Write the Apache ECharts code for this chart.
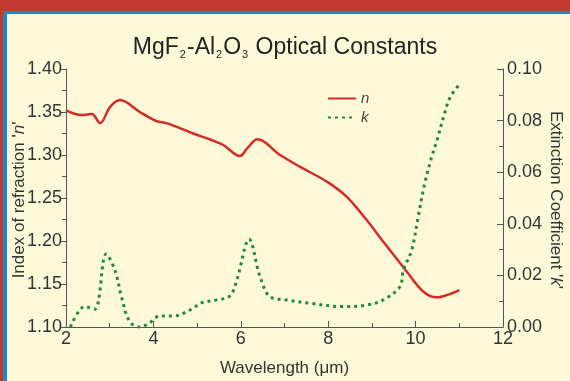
<!DOCTYPE html>
<html>
<head>
<meta charset="utf-8">
<script src="https://cdn.jsdelivr.net/npm/echarts@6/dist/echarts.min.js"></script>
<style>
  html, body { margin: 0; padding: 0; background: #fdf9d8; }
  #main { width: 570px; height: 381px; }
</style>
</head>
<body>
<div id="main"></div>
<script>
// 数据：波长与折射率 n
var wavelengthN = [2.0, 2.36, 2.59, 2.78, 3.01, 3.24, 3.69, 4.07, 4.3, 4.91, 5.3, 5.6, 5.98, 6.15, 6.38, 6.9, 7.35, 7.97, 8.42, 8.88, 9.26, 9.8, 10.18, 10.48, 10.71, 11.0];
var nValues = [1.352, 1.3465, 1.3477, 1.337, 1.356, 1.364, 1.350, 1.3395, 1.337, 1.325, 1.318, 1.3116, 1.2988, 1.308, 1.3182, 1.300, 1.2864, 1.269, 1.2515, 1.2244, 1.1992, 1.1643, 1.141, 1.1345, 1.137, 1.143];

// 数据：波长与消光系数 k
var wavelengthK = [2.1, 2.43, 2.66, 2.92, 3.12, 3.27, 3.46, 3.69, 3.88, 4.15, 4.46, 4.91, 5.07, 5.45, 5.75, 5.91, 6.19, 6.44, 6.67, 7.05, 7.58, 8.34, 8.88, 9.26, 9.64, 9.72, 9.91, 10.06, 10.21, 10.37, 10.5, 10.65, 10.79, 11.02];
var kValues = [0, 0.0079, 0.0069, 0.0283, 0.022, 0.0117, 0.002, 0, 0.0012, 0.0043, 0.0043, 0.0072, 0.0092, 0.0105, 0.012, 0.0182, 0.034, 0.0195, 0.0117, 0.0105, 0.0092, 0.0079, 0.0085, 0.0105, 0.0156, 0.022, 0.0298, 0.0428, 0.0557, 0.066, 0.073, 0.082, 0.089, 0.0944];

var nData = wavelengthN.map(function (x, i) { return [x, nValues[i]]; });
var kData = wavelengthK.map(function (x, i) { return [x, kValues[i]]; });

var myChart = echarts.init(document.getElementById('main'));
var axisColor = '#555';
var labelColor = '#333';
var fontFam = 'Liberation Sans, Arial, sans-serif';
var nameRich = { i: { fontStyle: 'italic', fontSize: 17, fontFamily: fontFam, fill: labelColor, color: labelColor } };

var option = {
    backgroundColor: '#fdf9d8',
    textStyle: { fontFamily: fontFam },
    title: {
        text: 'MgF{s|2}-Al{s|2}O{s|3} Optical Constants',
        left: 'center',
        top: 30,
        textStyle: {
            fontSize: 23,
            fontWeight: 'normal',
            color: '#222',
            fontFamily: fontFam,
            rich: {
                s: { fontSize: 11, color: '#222', padding: [14, 1, 0, 1] }
            }
        }
    },
    legend: {
        orient: 'vertical',
        left: 322,
        top: 86,
        itemWidth: 28,
        itemHeight: 8,
        itemGap: 4,
        itemStyle: { opacity: 0 },
        textStyle: { fontStyle: 'italic', fontSize: 15, color: '#444' },
        data: ['n', 'k']
    },
    grid: { left: 66, right: 67, top: 69, bottom: 54, containLabel: false, outerBoundsMode: 'none' },
    xAxis: {
        type: 'value',
        min: 2,
        max: 12,
        interval: 2,
        name: 'Wavelength (μm)',
        nameLocation: 'middle',
        nameGap: 33,
        nameTextStyle: { fontSize: 17, color: labelColor },
        axisLine: { show: true, onZero: false, lineStyle: { color: axisColor, width: 1 } },
        axisTick: { inside: true, length: 6, lineStyle: { color: axisColor } },
        minorTick: { show: true, splitNumber: 2, length: 4, lineStyle: { color: axisColor } },
        axisLabel: { fontSize: 18, color: labelColor, margin: 3 },
        splitLine: { show: false }
    },
    yAxis: [{
        type: 'value',
        min: 1.10,
        max: 1.40,
        interval: 0.05,
        axisLine: { show: true, lineStyle: { color: axisColor } },
        axisTick: { inside: false, length: 5, lineStyle: { color: axisColor } },
        minorTick: { show: true, splitNumber: 2, length: 4, lineStyle: { color: axisColor } },
        axisLabel: {
            fontSize: 18, color: labelColor, margin: 4,
            formatter: function (v) { return v.toFixed(2); }
        },
        splitLine: { show: false }
    }, {
        type: 'value',
        min: 0,
        max: 0.10,
        interval: 0.02,
        position: 'right',
        axisLine: { show: true, lineStyle: { color: axisColor } },
        axisTick: { inside: true, length: 6, lineStyle: { color: axisColor } },
        minorTick: { show: true, splitNumber: 2, length: 4, lineStyle: { color: axisColor } },
        axisLabel: {
            fontSize: 18, color: labelColor, margin: 4,
            formatter: function (v) { return v.toFixed(2); }
        },
        splitLine: { show: false }
    }],
    graphic: [
        { type: 'rect', shape: { x: 0, y: 0, width: 570, height: 11 }, style: { fill: '#c23b2e' }, z: 100 },
        { type: 'rect', shape: { x: 0, y: 0, width: 3, height: 381 }, style: { fill: '#c23b2e' }, z: 100 },
        { type: 'rect', shape: { x: 3, y: 11, width: 567, height: 3 }, style: { fill: '#1a8ad0' }, z: 100 },
        { type: 'rect', shape: { x: 3, y: 11, width: 4, height: 370 }, style: { fill: '#1a8ad0' }, z: 100 },
        // 纵轴标题
        {
            type: 'text', x: 19, y: 200, rotation: Math.PI / 2,
            style: {
                text: "Index of refraction '{i|n}'", rich: nameRich,
                fontSize: 17, fontFamily: fontFam, fill: labelColor,
                align: 'center', verticalAlign: 'middle'
            }
        },
        {
            type: 'text', x: 556, y: 200, rotation: -Math.PI / 2,
            style: {
                text: "Extinction Coefficient '{i|k}'", rich: nameRich,
                fontSize: 17, fontFamily: fontFam, fill: labelColor,
                align: 'center', verticalAlign: 'middle'
            }
        }
    ],
    series: [{
        name: 'n',
        type: 'line',
        yAxisIndex: 0,
        smooth: 0.35,
        symbol: 'none',
        lineStyle: { color: '#d42a2a', width: 2.5 },
        itemStyle: { color: '#d42a2a' },
        data: nData
    }, {
        name: 'k',
        type: 'line',
        yAxisIndex: 1,
        smooth: 0.35,
        symbol: 'none',
        lineStyle: { color: '#1f8a3e', width: 3, type: [3, 4] },
        itemStyle: { color: '#1f8a3e' },
        data: kData
    }]
};

myChart.setOption(option);
</script>
</body>
</html>
